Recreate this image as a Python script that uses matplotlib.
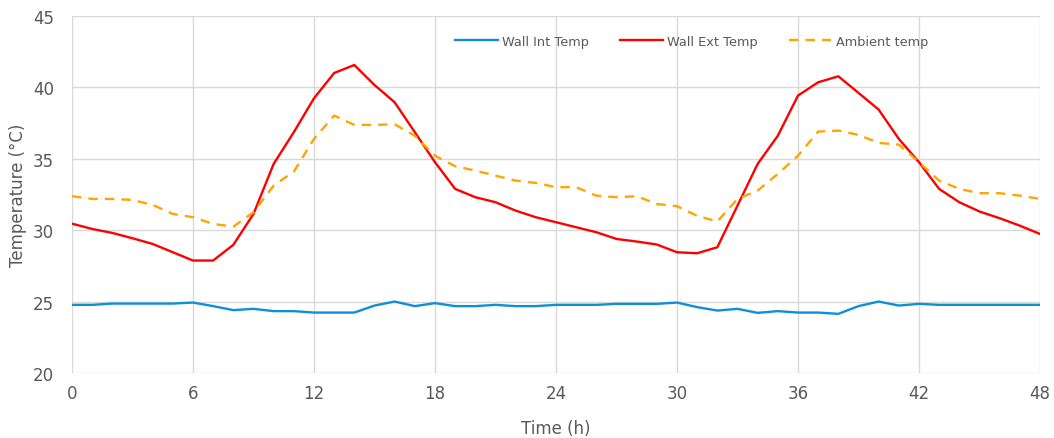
import numpy as np
import matplotlib
matplotlib.use("Agg")
import matplotlib.pyplot as plt

# hourly readings, 0..48 h
hours = list(range(49))

wall_int = [24.77, 24.77, 24.86, 24.86, 24.86, 24.86, 24.93, 24.68, 24.40, 24.49,
            24.33, 24.33, 24.23, 24.23, 24.23, 24.72, 25.00, 24.68, 24.89, 24.68,
            24.68, 24.77, 24.68, 24.68, 24.77, 24.77, 24.77, 24.84, 24.84, 24.84,
            24.93, 24.61, 24.37, 24.49, 24.21, 24.33, 24.23, 24.23, 24.14, 24.68,
            25.00, 24.72, 24.84, 24.77, 24.77, 24.77, 24.77, 24.77, 24.77]

wall_ext = [30.45, 30.08, 29.80, 29.43, 29.03, 28.45, 27.87, 27.87, 28.97, 31.13,
            34.63, 36.85, 39.22, 40.99, 41.55, 40.15, 38.94, 36.85, 34.75, 32.88,
            32.30, 31.95, 31.36, 30.90, 30.55, 30.20, 29.85, 29.38, 29.20, 28.99,
            28.45, 28.38, 28.80, 31.71, 34.63, 36.60, 39.41, 40.34, 40.76, 39.60,
            38.43, 36.38, 34.75, 32.88, 31.95, 31.30, 30.83, 30.31, 29.73]

ambient = [32.37, 32.18, 32.18, 32.11, 31.76, 31.13, 30.90, 30.43, 30.24, 31.25,
           33.11, 34.09, 36.38, 38.01, 37.36, 37.36, 37.40, 36.60, 35.20, 34.47,
           34.16, 33.81, 33.46, 33.30, 33.00, 33.00, 32.41, 32.30, 32.37, 31.83,
           31.67, 31.00, 30.60, 32.18, 32.76, 33.93, 35.20, 36.89, 36.96, 36.66,
           36.10, 35.98, 34.75, 33.46, 32.88, 32.58, 32.58, 32.41, 32.18]

x_ticks = [0, 6, 12, 18, 24, 30, 36, 42, 48]
y_ticks = [20, 25, 30, 35, 40, 45]

grey = "#595959"

fig = plt.figure(figsize=(10.54, 4.39), dpi=100)
ax = fig.add_axes([0.0683, 0.148, 0.9184, 0.814])

ax.plot(hours, wall_int, color="#0f8fd8", lw=1.7, label="Wall Int Temp")
ax.plot(hours, wall_ext, color="#ff0000", lw=1.7, label="Wall Ext Temp")
ax.plot(hours, ambient, color="#ffa500", lw=1.7, ls=(0, (4, 3)), label="Ambient temp")

ax.set_xlim(0, 48)
ax.set_ylim(20, 45)
ax.set_xticks(x_ticks)
ax.set_yticks(y_ticks)
ax.grid(True, color="#d9d9d9", lw=1)
ax.set_axisbelow(True)
for s in ax.spines.values():
    s.set_visible(False)
ax.tick_params(length=0, labelsize=12, labelcolor=grey)
ax.tick_params(axis="x", pad=8)
ax.tick_params(axis="y", pad=13)

ax.set_xlabel("Time (h)", fontsize=12, color=grey, labelpad=12)
ax.set_ylabel("Temperature (°C)", fontsize=12, color=grey, labelpad=4)

ax.legend(loc="center", bbox_to_anchor=(0.64, 0.929), ncol=3, frameon=False,
          fontsize=9.3, labelcolor=grey, handlelength=3.3, handletextpad=0.35,
          columnspacing=2.4)

fig.savefig("out.png", dpi=100)
